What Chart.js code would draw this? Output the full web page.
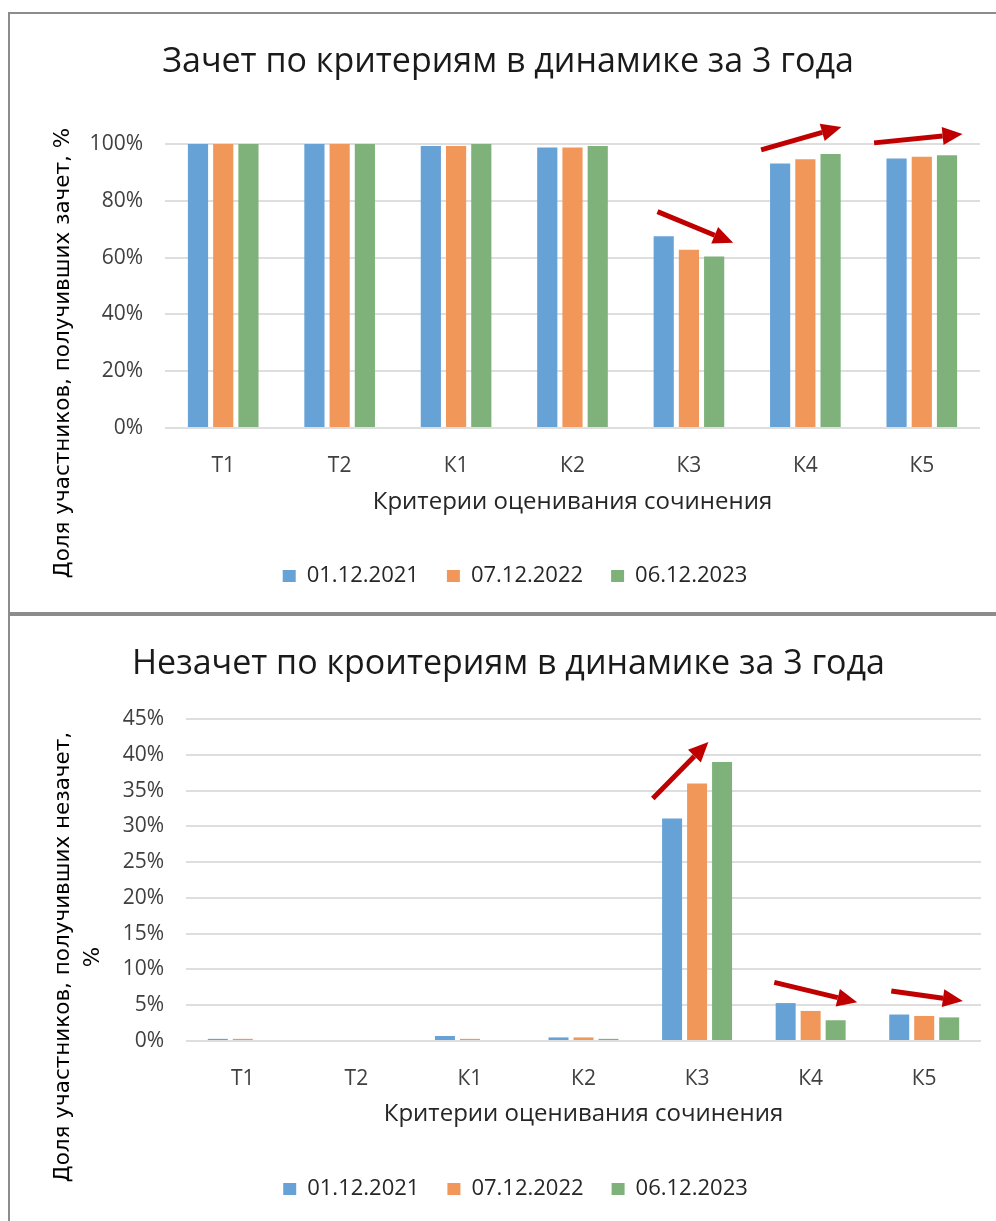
<!DOCTYPE html>
<html>
<head>
<meta charset="utf-8">
<script src="https://cdn.jsdelivr.net/npm/chart.js@4.4.1/dist/chart.umd.min.js"></script>
<style>
    body { margin: 0; background: #fff; width: 996px; height: 1221px; overflow: hidden; position: relative; }
    .panel { position: absolute; left: 8px; border-left: 2px solid #8c8c8c; }
    #panelTop { top: 12px; height: 598px; width: 986px; border-top: 2px solid #8c8c8c; }
    #panelBottom { top: 612px; height: 605px; width: 986px; border-top: 4px solid #8c8c8c; }
    .panel div { position: absolute; left: 0; right: 0; top: 0; bottom: 0; }
</style>
</head>
<body>
<div class="panel" id="panelTop"><div><canvas id="chartPassed"></canvas></div></div>
<div class="panel" id="panelBottom"><div><canvas id="chartFailed"></canvas></div></div>
<script>
var categories = ['Т1', 'Т2', 'К1', 'К2', 'К3', 'К4', 'К5'];
var seriesNames = ['01.12.2021', '07.12.2022', '06.12.2023'];

// зачет, %
var passed2021 = [100, 100, 99.3, 98.8, 67.5, 93.1, 94.9];
var passed2022 = [100, 100, 99.3, 98.8, 62.8, 94.6, 95.5];
var passed2023 = [100, 100, 100, 99.3, 60.4, 96.5, 96.0];

// незачет, %
var failed2021 = [0.3, 0, 0.7, 0.5, 31.1, 5.3, 3.7];
var failed2022 = [0.3, 0, 0.3, 0.5, 36.0, 4.2, 3.5];
var failed2023 = [0, 0, 0, 0.3, 39.0, 2.9, 3.3];

// red arrows: [x from (category index), y from (%), x to, y to]
var passedArrows = [[3.73, 76.2, 4.38, 65.2], [4.62, 97.9, 5.31, 106.0], [5.59, 100.4, 6.35, 103.5]];
var failedArrows = [[3.61, 33.9, 4.10, 41.8], [4.68, 8.2, 5.41, 5.4], [5.71, 7.0, 6.34, 5.6]];

var colors = ['#67a2d7', '#f1975a', '#7eb27a'];

Chart.defaults.font.family = "'Open Sans', sans-serif";
Chart.defaults.color = '#404040';

var extrasPlugin = {
    id: 'extras',
    beforeDraw: function (chart, args, opts) {
        // nudge legend row to the right, like the original
        var lg = chart.legend;
        if (lg && !lg._shifted) {
            lg.left += opts.legendShift;
            lg.right += opts.legendShift;
            lg._shifted = true;
        }
    },
    afterDraw: function (chart, args, opts) {
        var ctx = chart.ctx;
        var xs = chart.scales.x, ys = chart.scales.y;
        ctx.save();
        // y axis title
        ctx.fillStyle = '#000';
        ctx.font = '21.5px "DejaVu Sans"';
        ctx.textAlign = 'center';
        ctx.textBaseline = 'middle';
        opts.yTitle.forEach(function (line, i) {
            ctx.save();
            ctx.translate(opts.yTitleX + i * 30, opts.yTitleY);
            ctx.rotate(-Math.PI / 2);
            ctx.fillText(line, 0, 0);
            ctx.restore();
        });
        // arrows
        ctx.strokeStyle = '#c00000';
        ctx.fillStyle = '#c00000';
        ctx.lineWidth = 5;
        opts.arrows.forEach(function (a) {
            var x1 = xs.getPixelForValue(a[0]), y1 = ys.getPixelForValue(a[1]);
            var x2 = xs.getPixelForValue(a[2]), y2 = ys.getPixelForValue(a[3]);
            var ang = Math.atan2(y2 - y1, x2 - x1);
            var head = 20, half = 9;
            var bx = x2 - head * Math.cos(ang), by = y2 - head * Math.sin(ang);
            ctx.beginPath();
            ctx.moveTo(x1, y1);
            ctx.lineTo(bx, by);
            ctx.stroke();
            ctx.beginPath();
            ctx.moveTo(x2, y2);
            ctx.lineTo(bx + half * Math.sin(ang), by - half * Math.cos(ang));
            ctx.lineTo(bx - half * Math.sin(ang), by + half * Math.cos(ang));
            ctx.closePath();
            ctx.fill();
        });
        ctx.restore();
    }
};

function makeChart(canvasId, title, values, yMax, yStep, yTitle, arrows, geo) {
    var datasets = [];
    for (var i = 0; i < values.length; i++) {
        datasets.push({
            label: seriesNames[i],
            data: values[i],
            backgroundColor: colors[i],
            borderWidth: 0,
            barPercentage: 0.8,
            categoryPercentage: geo.catPct
        });
    }
    return new Chart(document.getElementById(canvasId), {
        type: 'bar',
        data: { labels: categories, datasets: datasets },
        options: {
            responsive: true,
            maintainAspectRatio: false,
            animation: false,
            layout: { padding: { left: 26, right: geo.padRight, top: 0, bottom: geo.padBottom } },
            plugins: {
                title: {
                    display: true,
                    text: title,
                    color: '#1a1a1a',
                    font: { size: 34, weight: 'normal' },
                    padding: { top: 27.6, bottom: geo.titleBottom }
                },
                legend: {
                    position: 'bottom',
                    labels: {
                        boxWidth: 13,
                        boxHeight: 12,
                        padding: 28,
                        color: '#262626',
                        font: { size: 22 }
                    }
                },
                tooltip: { enabled: false },
                extras: { yTitle: yTitle, yTitleX: geo.yTitleX, yTitleY: geo.yTitleY, arrows: arrows, legendShift: 7 }
            },
            scales: {
                x: {
                    grid: { display: false },
                    border: { display: false },
                    ticks: { padding: 17, font: { size: 21 }, color: '#404040' },
                    title: {
                        display: true,
                        text: 'Критерии оценивания сочинения',
                        color: '#262626',
                        font: { size: 24 },
                        padding: { top: 0, bottom: geo.xTitleBottom }
                    },
                    afterFit: function (scale) { scale.height = geo.xHeight; }
                },
                y: {
                    min: 0,
                    max: yMax,
                    ticks: {
                        stepSize: yStep,
                        padding: 22,
                        font: { size: 21 },
                        color: '#404040',
                        callback: function (v) { return v + '%'; }
                    },
                    grid: { color: '#dedede', lineWidth: 2, drawTicks: false },
                    border: { display: false },
                    afterFit: function (scale) { scale.width = geo.yWidth; }
                }
            }
        },
        plugins: [extrasPlugin]
    });
}

makeChart('chartPassed', 'Зачет по критериям в динамике за 3 года',
    [passed2021, passed2022, passed2023], 100, 20,
    ['Доля участников, получивших зачет, %'], passedArrows,
    { catPct: 0.65, padRight: 16, padBottom: 15, titleBottom: 61.6,
      xHeight: 109, xTitleBottom: 20.6, yWidth: 129, yTitleX: 53, yTitleY: 339 });

makeChart('chartFailed', 'Незачет по кроитериям в динамике за 3 года',
    [failed2021, failed2022, failed2023], 45, 5,
    ['Доля участников, получивших незачет,', '%'], failedArrows,
    { catPct: 0.66, padRight: 15, padBottom: 11, titleBottom: 34.6,
      xHeight: 109, xTitleBottom: 21.6, yWidth: 150, yTitleX: 53, yTitleY: 341 });
</script>
</body>
</html>
